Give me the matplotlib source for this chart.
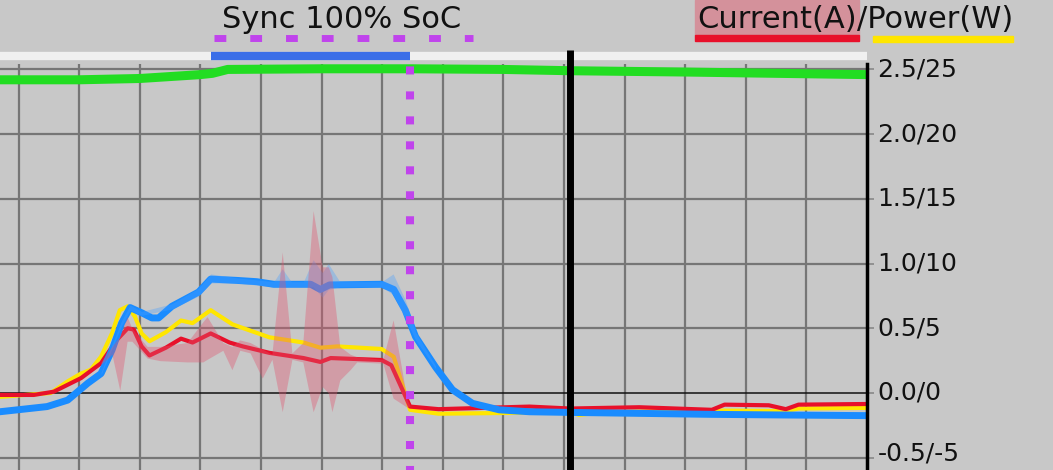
import numpy as np
import matplotlib
matplotlib.use("Agg")
import matplotlib.pyplot as plt
from matplotlib.patches import Rectangle
from matplotlib.transforms import blended_transform_factory

plt.rcParams['font.family'] = ['DejaVu Sans']

## --- Data (x in grid units, y in A; power axis is 10x) ---
red_x = [-0.31, 0.25, 0.58, 1.03, 1.36, 1.62, 1.80, 1.90, 2.03, 2.16, 2.43, 2.68, 2.87,
         3.17, 3.48, 3.70, 4.14, 4.70, 4.98, 5.15, 5.99, 6.15, 6.46, 6.93, 8.43, 9.10,
         10.24, 11.44, 11.65, 12.38, 12.66, 12.87, 14.0]
red_y = [-0.015, -0.015, 0.01, 0.115, 0.23, 0.41, 0.50, 0.49, 0.36, 0.29, 0.35, 0.42, 0.39,
         0.46, 0.39, 0.36, 0.31, 0.27, 0.24, 0.27, 0.255, 0.215, -0.105, -0.125, -0.105, -0.12,
         -0.11, -0.13, -0.09, -0.095, -0.125, -0.09, -0.085]

yel_x = [-0.31, 0.53, 0.81, 1.03, 1.19, 1.36, 1.54, 1.67, 1.80, 1.92, 2.03, 2.16, 2.43,
         2.68, 2.87, 3.17, 3.53, 4.14, 4.70, 4.98, 5.26, 5.99, 6.19, 6.46, 6.93, 7.93,
         9.10, 9.25, 9.58, 11.23, 12.66, 12.87, 14.0]
yel_y = [-0.03, 0.0, 0.09, 0.15, 0.18, 0.28, 0.46, 0.64, 0.67, 0.59, 0.46, 0.40, 0.47,
         0.56, 0.54, 0.64, 0.53, 0.43, 0.39, 0.35, 0.36, 0.34, 0.28, -0.13, -0.16, -0.155,
         -0.145, -0.17, -0.15, -0.135, -0.14, -0.12, -0.115]

blue_x = [-0.31, 0.47, 0.81, 1.14, 1.36, 1.54, 1.70, 1.84, 2.03, 2.20, 2.31, 2.53, 2.97,
          3.17, 3.60, 3.93, 4.21, 4.82, 4.98, 5.13, 5.99, 6.19, 6.38, 6.55, 6.88, 7.16,
          7.49, 7.93, 8.43, 9.10, 11.44, 12.66, 14.0]
blue_y = [-0.145, -0.105, -0.055, 0.075, 0.15, 0.33, 0.54, 0.66, 0.62, 0.58, 0.58, 0.67, 0.78,
          0.88, 0.87, 0.86, 0.84, 0.84, 0.80, 0.835, 0.84, 0.80, 0.64, 0.435, 0.20, 0.025,
          -0.08, -0.13, -0.145, -0.15, -0.165, -0.17, -0.175]

green_x = [-0.31, 1.0, 2.0, 3.0, 3.2, 3.45, 5.0, 6.5, 8.0, 9.1, 11.0, 12.5, 14.0]
green_y = [2.42, 2.42, 2.43, 2.46, 2.47, 2.50, 2.505, 2.505, 2.50, 2.49, 2.48, 2.47, 2.46]

# current spread band
band_x = [1.36, 1.54, 1.67, 1.79, 1.87, 2.12, 2.33, 2.78, 3.04, 3.11, 3.37, 3.52, 3.65,
          3.82, 4.02, 4.18, 4.35, 4.51, 4.69, 4.86, 5.01, 5.11, 5.17, 5.30, 5.47, 5.58,
          6.01, 6.18, 6.41, 6.46]
band_lo = [0.22, 0.30, 0.02, 0.40, 0.40, 0.27, 0.25, 0.24, 0.24, 0.26, 0.33, 0.18, 0.33,
           0.31, 0.115, 0.26, -0.145, 0.26, 0.24, -0.145, 0.05, 0.0, -0.145, 0.10, 0.18, 0.24,
           0.23, -0.04, -0.11, -0.10]
band_hi = [0.24, 0.36, 0.44, 0.59, 0.50, 0.36, 0.36, 0.39, 0.55, 0.59, 0.39, 0.36, 0.41,
           0.39, 0.34, 0.30, 1.09, 0.31, 0.39, 1.41, 0.975, 0.975, 0.90, 0.36, 0.30, 0.28,
           0.26, 0.565, -0.05, -0.10]

# blue spread band
bband_x = [1.36, 1.70, 1.84, 2.03, 2.53, 2.97, 3.17, 3.60, 4.21, 4.35, 4.50, 4.70, 4.86,
           5.01, 5.11, 5.30, 5.99, 6.18, 6.38, 6.55, 6.88]
bband_hi = [0.16, 0.56, 0.68, 0.63, 0.69, 0.81, 0.92, 0.89, 0.86, 0.96, 0.86, 0.86, 1.03,
            0.93, 1.00, 0.86, 0.86, 0.92, 0.72, 0.47, 0.21]
bband_lo = [0.14, 0.52, 0.64, 0.60, 0.65, 0.75, 0.85, 0.85, 0.82, 0.82, 0.82, 0.82, 0.82,
            0.74, 0.80, 0.82, 0.82, 0.76, 0.58, 0.41, 0.19]

yticks = [-0.5, 0.0, 0.5, 1.0, 1.5, 2.0, 2.5]
ytick_labels = ["-0.5/-5", "0.0/0", "0.5/5", "1.0/10", "1.5/15", "2.0/20", "2.5/25"]

sync_start, sync_end = 3.22, 6.46
now_x = 9.10

## --- Plot ---
BG = "#c8c8c8"
fig = plt.figure(figsize=(10.53, 4.70), dpi=100, facecolor=BG)
ax = fig.add_axes([0, 0, 867 / 1053, 406 / 470], facecolor=BG)
ax.set_xlim(-0.307, 14.0)
ax.set_ylim(-0.595, 2.542)

for gx in range(0, 14):
    ax.axvline(gx, color="#767676", lw=1.6, zorder=1)
for gy in yticks:
    if gy == 0.0:
        ax.axhline(gy, color="#111111", lw=1.1, zorder=1)
    else:
        ax.axhline(gy, color="#767676", lw=1.6, zorder=1)

ax.plot(green_x, green_y, color="#22dd22", lw=6.5, zorder=3, solid_capstyle="butt")
ax.plot(yel_x, yel_y, color="#ffe600", lw=3, zorder=3)
ax.plot(red_x, red_y, color="#e8102a", lw=3, zorder=4)
ax.plot(blue_x, blue_y, color="#1a8cff", lw=5, zorder=4)
ax.fill_between(bband_x, bband_lo, bband_hi, color="#4aa0ff", alpha=0.35, lw=0, zorder=5)
ax.fill_between(band_x, band_lo, band_hi, color="#e05570", alpha=0.38, lw=0, zorder=5)

# top sync strip, cursor and sync marker
tr = blended_transform_factory(ax.transData, ax.transAxes)
ax.plot([-0.307, 14.0], [1.0205, 1.0205], transform=tr, color="#f0f0f0", lw=6,
        solid_capstyle="butt", clip_on=False, zorder=6)
ax.plot([sync_start - 0.04, sync_end], [1.0205, 1.0205], transform=tr, color="#3a6ee8", lw=6,
        solid_capstyle="butt", clip_on=False, zorder=7)
ax.plot([sync_end, sync_end], [0, 1.03], transform=tr, color="#c044ec", lw=5.8,
        linestyle=(0.5, (1, 2.1)), dash_capstyle="butt", clip_on=False, zorder=6)
ax.plot([now_x, now_x], [0, 1.034], transform=tr, color="black", lw=5,
        solid_capstyle="butt", clip_on=False, zorder=8)

trf = blended_transform_factory(ax.transData, fig.transFigure)
ax.plot([sync_start, 7.50], [0.919, 0.919], transform=trf, color="#c044ec", lw=5,
        linestyle=(0, (1.7, 3.45)), dash_capstyle="butt", clip_on=False, zorder=6)

# right axis
for s in ["left", "top", "bottom"]:
    ax.spines[s].set_visible(False)
ax.spines["right"].set_color("black")
ax.spines["right"].set_linewidth(2.5)
ax.spines["right"].set_zorder(9)
ax.set_xticks([])
ax.yaxis.tick_right()
ax.set_yticks(yticks)
ax.set_yticklabels([])
ax.tick_params(axis="y", direction="out", length=5, width=1.2, color="#888888")

tr_lab = blended_transform_factory(ax.transAxes, ax.transData)
for v, lab in zip(yticks, ytick_labels):
    dy = 3 if v == yticks[0] else 0
    ax.annotate(lab, (1.0, v), xycoords=tr_lab, xytext=(7.5, dy), textcoords="offset points",
                ha="left", va="center", fontsize=18, color="#111111", annotation_clip=False)

# header texts
fig.text(342 / 1053, 1 - 28.5 / 470, "Sync 100% SoC", fontsize=22, color="#111111",
         ha="center", va="baseline")
t1 = fig.text(697 / 1053, 1 - 28.5 / 470, "Current(A)", fontsize=22, color="#111111",
              ha="left", va="baseline", zorder=3)
fig.canvas.draw()
bb = t1.get_window_extent()
t2 = fig.text(bb.x1 / 1053, 1 - 28.5 / 470, "/Power(W)", fontsize=22, color="#111111",
              ha="left", va="baseline", zorder=3)
fig.canvas.draw()
bb2 = t2.get_window_extent()
fig.patches.append(Rectangle(((bb.x0 - 2) / 1053, 1 - 35 / 470), (bb.width + 4) / 1053, 35 / 470,
                             transform=fig.transFigure, color="#d4919b", zorder=1))
fig.patches.append(Rectangle(((bb.x0 - 2) / 1053, 1 - 40.5 / 470), (bb.width + 4) / 1053, 5.5 / 470,
                             transform=fig.transFigure, color="#e8102a", zorder=2))
fig.patches.append(Rectangle(((bb2.x0 + 16) / 1053, 1 - 41.5 / 470), (bb2.width - 16) / 1053, 5.5 / 470,
                             transform=fig.transFigure, color="#ffe600", zorder=2))

fig.savefig("out.png", dpi=100, facecolor=BG)
